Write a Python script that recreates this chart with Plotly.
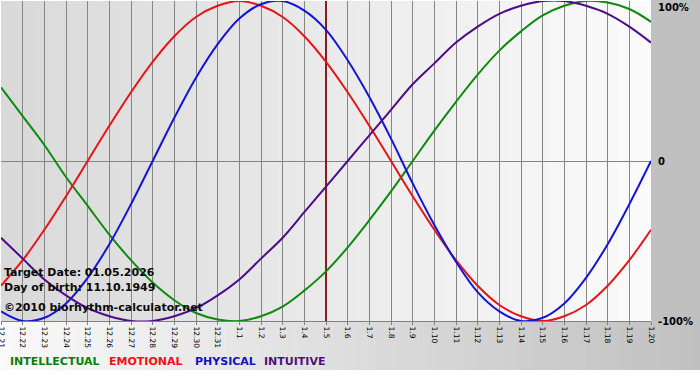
import plotly.graph_objects as go

# ---------------- data ----------------
dates = ["12.21", "12.22", "12.23", "12.24", "12.25", "12.26", "12.27", "12.28",
         "12.29", "12.30", "12.31", "1.1", "1.2", "1.3", "1.4", "1.5", "1.6",
         "1.7", "1.8", "1.9", "1.10", "1.11", "1.12", "1.13", "1.14", "1.15",
         "1.16", "1.17", "1.18", "1.19", "1.20"]
target_day = "1.5"

intellectual = [0.46, 0.28, 0.10, -0.10, -0.28, -0.46, -0.62, -0.76, -0.87, -0.95,
                -0.99, -1.00, -0.97, -0.91, -0.81, -0.69, -0.54, -0.37, -0.19, 0.00,
                0.19, 0.37, 0.54, 0.69, 0.81, 0.91, 0.97, 1.00, 0.99, 0.95, 0.87]
emotional = [-0.78, -0.62, -0.43, -0.22, 0.00, 0.22, 0.43, 0.62, 0.78, 0.90,
             0.97, 1.00, 0.97, 0.90, 0.78, 0.62, 0.43, 0.22, 0.00, -0.22,
             -0.43, -0.62, -0.78, -0.90, -0.97, -1.00, -0.97, -0.90, -0.78, -0.62, -0.43]
physical = [-0.94, -1.00, -0.98, -0.89, -0.73, -0.52, -0.27, 0.00, 0.27, 0.52,
            0.73, 0.89, 0.98, 1.00, 0.94, 0.82, 0.63, 0.40, 0.14, -0.14,
            -0.40, -0.63, -0.82, -0.94, -1.00, -0.98, -0.89, -0.73, -0.52, -0.27, 0.00]
intuitive = [-0.48, -0.61, -0.74, -0.84, -0.92, -0.97, -1.00, -1.00, -0.97, -0.92,
             -0.84, -0.74, -0.61, -0.48, -0.32, -0.16, 0.00, 0.16, 0.32, 0.48,
             0.61, 0.74, 0.84, 0.92, 0.97, 1.00, 1.00, 0.97, 0.92, 0.84, 0.74]

series_names = ["INTELLECTUAL", "EMOTIONAL", "PHYSICAL", "INTUITIVE"]
series_values = [intellectual, emotional, physical, intuitive]
line_colors = ["#0e8a0e", "#e81418", "#1414d4", "#4e0c8a"]
legend_colors = ["#0b7d0b", "#f01018", "#1212c8", "#52107e"]

y_tick_vals = [1, 0, -1]
y_tick_text = ["100%", "0", "-100%"]

info_lines = ["Target Date: 01.05.2026", "Day of birth: 11.10.1949",
              "\u00a92010 biorhythm-calculator.net"]

# ---------------- layout geometry ----------------
W, H = 700, 380
ML, MR, MT, MB = 1, 49, 1, 59
PW, PH = W - ML - MR, H - MT - MB


def px_x(p):
    return (p - ML) / PW


def px_y(q):
    return (H - MB - q) / PH


fig = go.Figure()

# target date line
fig.add_trace(go.Scatter(x=[target_day, target_day], y=[-1.02, 1.02], mode="lines",
                         line=dict(color="#8a1c1c", width=2), hoverinfo="skip",
                         showlegend=False, cliponaxis=True))

for name, vals, col in zip(series_names, series_values, line_colors):
    fig.add_trace(go.Scatter(x=dates, y=vals, mode="lines", name=name,
                             line=dict(color=col, width=2, shape="spline", smoothing=1),
                             showlegend=False))

shapes = []
# plot area gradient (grey at left -> near white at right)
N = 80
for k in range(N):
    t = (k + 0.5) / N
    g = int(round(217 + (251 - 217) * t))
    shapes.append(dict(type="rect", xref="paper", yref="paper",
                       x0=k / N, x1=(k + 1) / N + 0.002, y0=0, y1=1,
                       fillcolor=f"rgb({g},{g},{g})", line=dict(width=0), layer="below"))
# right margin grey
shapes.append(dict(type="rect", xref="paper", yref="paper",
                   x0=1, x1=px_x(W + 2), y0=0, y1=px_y(-2),
                   fillcolor="#c0c0c0", line=dict(width=0), layer="below"))
# bottom band gradient (near white at left -> grey at right)
for k in range(N):
    t = (k + 0.5) / N
    g = int(round(250 + (192 - 250) * t))
    x0p = -2 + (W + 4) * k / N
    x1p = -2 + (W + 4) * (k + 1) / N + 1
    shapes.append(dict(type="rect", xref="paper", yref="paper",
                       x0=px_x(x0p), x1=px_x(x1p), y0=px_y(370), y1=0,
                       fillcolor=f"rgb({g},{g},{g})", line=dict(width=0), layer="below"))

annotations = []
# right-side y labels
for v, txt in zip(y_tick_vals, y_tick_text):
    annotations.append(dict(x=1, xref="paper", y=v, yref="y", text=txt,
                            showarrow=False, xanchor="left",
                            yanchor="top" if v == 1 else "middle",
                            xshift=5, yshift=1 if v == 1 else 0,
                            font=dict(family="DejaVu Sans", size=10, color="#000000",
                                      weight="bold")))
# info text
for txt, yc in zip(info_lines, [272, 287, 307]):
    annotations.append(dict(x=px_x(2), xref="paper", y=px_y(yc), yref="paper", text=txt,
                            showarrow=False, xanchor="left", yanchor="middle",
                            font=dict(family="DejaVu Sans", size=11, color="#0a0a0a",
                                      weight="bold")))
# bottom legend words
for name, col, xp in zip(series_names, legend_colors, [8, 107, 193, 262]):
    annotations.append(dict(x=px_x(xp), xref="paper", y=px_y(361), yref="paper", text=name,
                            showarrow=False, xanchor="left", yanchor="middle",
                            font=dict(family="DejaVu Sans", size=11, color=col,
                                      weight="bold")))

fig.update_layout(
    width=W, height=H,
    margin=dict(l=ML, r=MR, t=MT, b=MB, pad=0, autoexpand=False),
    paper_bgcolor="#ffffff",
    plot_bgcolor="rgba(0,0,0,0)",
    showlegend=False,
    shapes=shapes,
    annotations=annotations,
    xaxis=dict(type="category", categoryorder="array", categoryarray=dates,
               range=[0, len(dates) - 1], tickmode="array", tickvals=dates, ticktext=dates,
               tickangle=90, showgrid=True, gridcolor="#858585", gridwidth=1,
               showline=True, linecolor="#808080", linewidth=1,
               ticks="outside", ticklen=3, tickcolor="#808080",
               tickfont=dict(family="DejaVu Sans", size=7.5, color="#000000"),
               zeroline=False, fixedrange=True, automargin=False),
    yaxis=dict(range=[-1, 1], showgrid=False, showticklabels=False, ticks="",
               zeroline=True, zerolinecolor="#858585", zerolinewidth=1,
               showline=False, fixedrange=True, automargin=False),
)

fig.write_html("out.html", config={"displayModeBar": False},
               post_script="document.body.style.margin='0';document.body.style.overflow='hidden';")
